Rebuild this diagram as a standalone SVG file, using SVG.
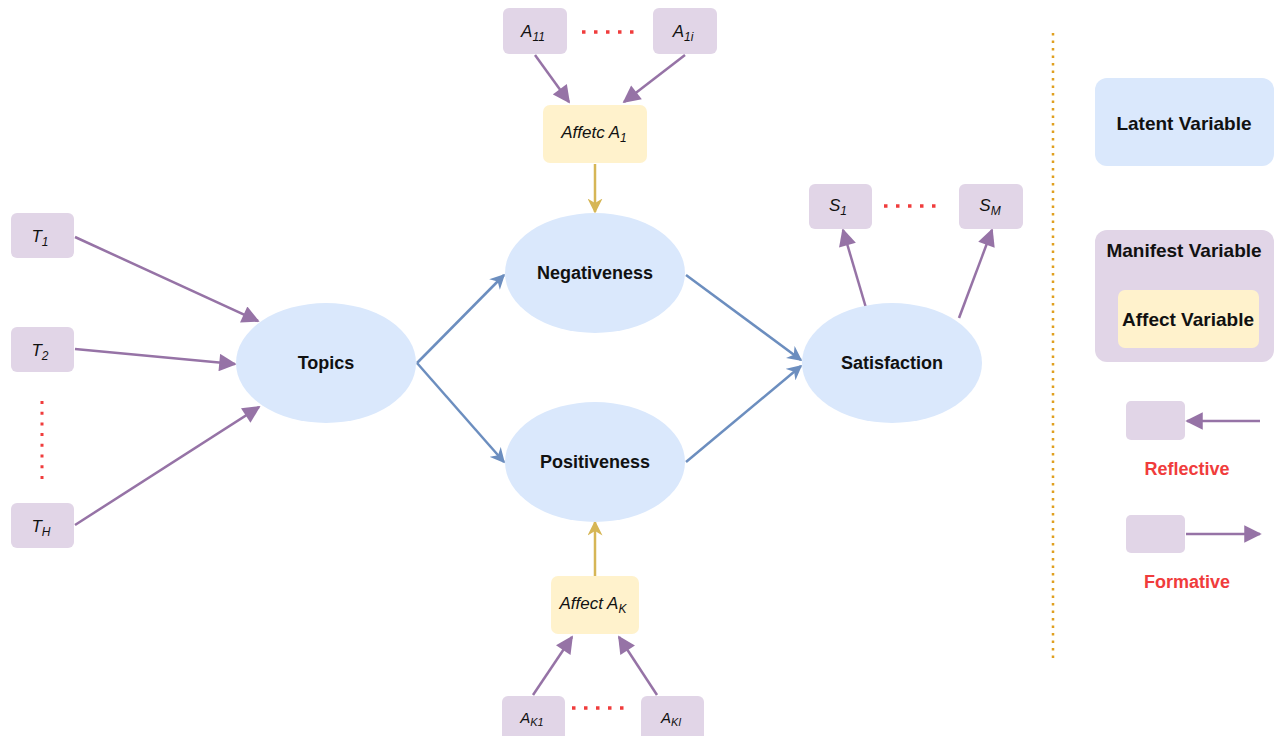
<svg xmlns="http://www.w3.org/2000/svg" width="1280" height="736" viewBox="0 0 1280 736">
  <defs>
    <style>
      text { font-family: "Liberation Sans", Arial, sans-serif; fill: #111; }
      .latent { fill: #dae8fc; }
      .manifest { fill: #e1d5e7; }
      .affect { fill: #fff2cc; }
      .lbl { font-size: 18px; font-weight: bold; text-anchor: middle; }
      .ital { font-size: 17px; font-style: italic; text-anchor: middle; }
      .sub { font-size: 12px; }
      .legend { font-size: 19px; font-weight: bold; text-anchor: middle; }
      .red { fill: #f03c3c; font-size: 18px; font-weight: bold; text-anchor: middle; }
      .purple { stroke: #9673a6; stroke-width: 2.5; fill: none; marker-end: url(#ahPurple); }
      .blue { stroke: #6c8ebf; stroke-width: 2.5; fill: none; marker-end: url(#ahBlue); }
      .gold { stroke: #d6b656; stroke-width: 2.5; fill: none; marker-end: url(#ahGold); }
      .dots { stroke: #f03c3c; stroke-width: 3.5; stroke-dasharray: 3.5 8.5; fill: none; }
    </style>
    <marker id="ahPurple" viewBox="0 0 10 10" refX="9" refY="5" markerWidth="7.5" markerHeight="7" markerUnits="strokeWidth" orient="auto">
      <path d="M0,0 L10,5 L0,10 Z" fill="#9673a6"/>
    </marker>
    <marker id="ahBlue" viewBox="0 0 10 10" refX="9" refY="5" markerWidth="6" markerHeight="6" markerUnits="strokeWidth" orient="auto">
      <path d="M0,0 L10,5 L0,10 L3,5 Z" fill="#6c8ebf"/>
    </marker>
    <marker id="ahGold" viewBox="0 0 10 10" refX="9" refY="5" markerWidth="6" markerHeight="6" markerUnits="strokeWidth" orient="auto">
      <path d="M0,0 L10,5 L0,10 L3,5 Z" fill="#d6b656"/>
    </marker>
  </defs>

  <rect width="1280" height="736" fill="#ffffff"/>

  <!-- connectors -->
  <g id="connectors">
    <line class="purple" x1="75" y1="237" x2="258" y2="321"/>
    <line class="purple" x1="75" y1="349" x2="235" y2="364"/>
    <line class="purple" x1="75" y1="525" x2="259" y2="407"/>
    <line class="purple" x1="535" y1="55" x2="569" y2="102"/>
    <line class="purple" x1="685" y1="55" x2="624" y2="102"/>
    <line class="purple" x1="533" y1="695" x2="572" y2="637"/>
    <line class="purple" x1="657" y1="695" x2="619" y2="637"/>
    <line class="purple" x1="869" y1="318" x2="843" y2="230"/>
    <line class="purple" x1="959" y1="318" x2="992" y2="230"/>
    <line class="gold" x1="595" y1="164" x2="595" y2="212"/>
    <line class="gold" x1="595" y1="576" x2="595" y2="522"/>
    <line class="blue" x1="417" y1="363" x2="504" y2="275"/>
    <line class="blue" x1="417" y1="363" x2="504" y2="462"/>
    <line class="blue" x1="686" y1="275" x2="801" y2="360"/>
    <line class="blue" x1="686" y1="462" x2="801" y2="366"/>
  </g>

  <!-- ellipsis dots between repeated indicators -->
  <g id="ellipses">
    <line class="dots" x1="582" y1="32" x2="636" y2="32"/>
    <line class="dots" x1="572" y1="708" x2="626" y2="708"/>
    <line class="dots" x1="884" y1="206" x2="938" y2="206"/>
    <line class="dots" x1="42" y1="401" x2="42" y2="480" style="stroke-width:3; stroke-dasharray:3 7.7"/>
  </g>

  <!-- topic indicators -->
  <g id="T1">
    <rect class="manifest" x="11" y="213" width="63" height="45" rx="6"/>
    <text class="ital" x="40" y="242">T<tspan class="sub" dy="4">1</tspan></text>
  </g>
  <g id="T2">
    <rect class="manifest" x="11" y="327" width="63" height="45" rx="6"/>
    <text class="ital" x="40" y="356">T<tspan class="sub" dy="4">2</tspan></text>
  </g>
  <g id="TH">
    <rect class="manifest" x="11" y="503" width="63" height="45" rx="6"/>
    <text class="ital" x="41" y="532">T<tspan class="sub" dy="4">H</tspan></text>
  </g>

  <!-- latent variables -->
  <g id="Topics">
    <ellipse class="latent" cx="326" cy="363" rx="90" ry="60"/>
    <text class="lbl" x="326" y="369">Topics</text>
  </g>
  <g id="Negativeness">
    <ellipse class="latent" cx="595" cy="273" rx="90" ry="60"/>
    <text class="lbl" x="595" y="279">Negativeness</text>
  </g>
  <g id="Positiveness">
    <ellipse class="latent" cx="595" cy="462" rx="90" ry="60"/>
    <text class="lbl" x="595" y="468">Positiveness</text>
  </g>
  <g id="Satisfaction">
    <ellipse class="latent" cx="892" cy="363" rx="90" ry="60"/>
    <text class="lbl" x="892" y="369">Satisfaction</text>
  </g>

  <!-- affect A1 and its indicators -->
  <g id="A11">
    <rect class="manifest" x="503" y="8" width="64" height="46" rx="6"/>
    <text class="ital" x="533" y="37">A<tspan class="sub" dy="4">11</tspan></text>
  </g>
  <g id="A1i">
    <rect class="manifest" x="653" y="8" width="64" height="46" rx="6"/>
    <text class="ital" x="683" y="37">A<tspan class="sub" dy="4">1i</tspan></text>
  </g>
  <g id="AffectA1">
    <rect class="affect" x="543" y="105" width="104" height="58" rx="7"/>
    <text class="ital" x="594" y="138">Affetc A<tspan class="sub" dy="4">1</tspan></text>
  </g>

  <!-- affect AK and its indicators -->
  <g id="AffectAK">
    <rect class="affect" x="551" y="576" width="88" height="58" rx="7"/>
    <text class="ital" x="593" y="609">Affect A<tspan class="sub" dy="4">K</tspan></text>
  </g>
  <g id="AK1">
    <rect class="manifest" x="502" y="696" width="63" height="50" rx="6"/>
    <text class="ital" x="532" y="723" style="font-size:15px">A<tspan class="sub" dy="3" style="font-size:11px">K1</tspan></text>
  </g>
  <g id="AKl">
    <rect class="manifest" x="641" y="696" width="63" height="50" rx="6"/>
    <text class="ital" x="671" y="723" style="font-size:15px">A<tspan class="sub" dy="3" style="font-size:11px">Kl</tspan></text>
  </g>

  <!-- satisfaction indicators -->
  <g id="S1">
    <rect class="manifest" x="809" y="184" width="63" height="45" rx="6"/>
    <text class="ital" x="838" y="211">S<tspan class="sub" dy="4">1</tspan></text>
  </g>
  <g id="SM">
    <rect class="manifest" x="959" y="184" width="64" height="45" rx="6"/>
    <text class="ital" x="990" y="211">S<tspan class="sub" dy="4">M</tspan></text>
  </g>

  <!-- legend -->
  <g id="legend">
    <line x1="1053" y1="33" x2="1053" y2="662" stroke="#e0a020" stroke-width="2.5" stroke-dasharray="2.5 5"/>
    <rect class="latent" x="1095" y="78" width="179" height="88" rx="12"/>
    <text class="legend" x="1184" y="130">Latent Variable</text>
    <rect class="manifest" x="1095" y="230" width="179" height="132" rx="12"/>
    <text class="legend" x="1184" y="257">Manifest Variable</text>
    <rect class="affect" x="1118" y="290" width="141" height="58" rx="7"/>
    <text class="legend" x="1188" y="326">Affect Variable</text>
    <rect class="manifest" x="1126" y="401" width="59" height="39" rx="5"/>
    <line class="purple" x1="1260" y1="421" x2="1187" y2="421"/>
    <text class="red" x="1187" y="475">Reflective</text>
    <rect class="manifest" x="1126" y="515" width="59" height="38" rx="5"/>
    <line class="purple" x1="1186" y1="534" x2="1260" y2="534"/>
    <text class="red" x="1187" y="588">Formative</text>
  </g>
</svg>
